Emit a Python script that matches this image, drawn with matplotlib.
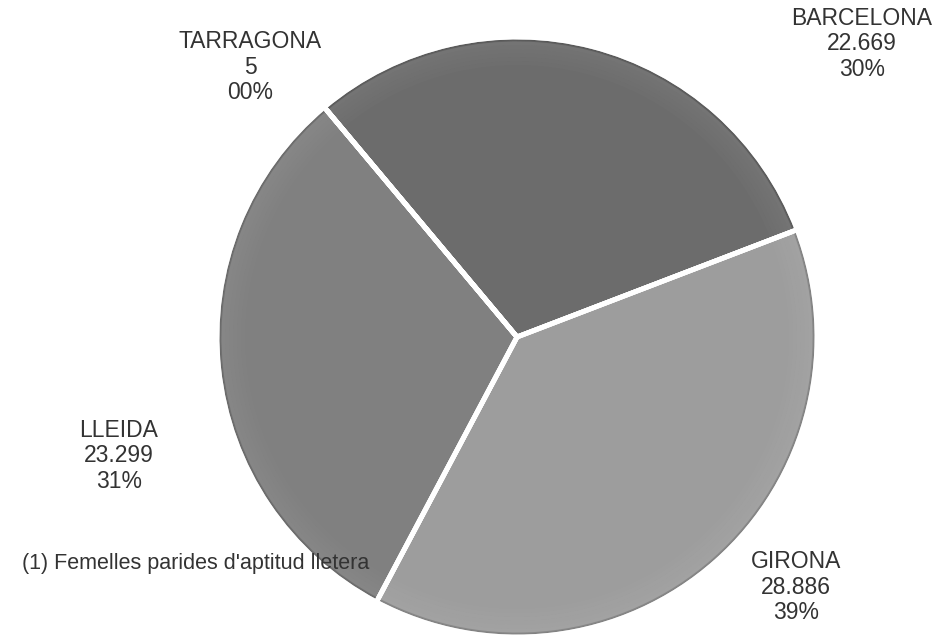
import matplotlib.pyplot as plt
from matplotlib.patches import Wedge

plt.rcParams['font.family'] = ['Liberation Sans', 'DejaVu Sans']

# dades
provincies = ["TARRAGONA", "BARCELONA", "GIRONA", "LLEIDA"]
caps = [5, 22669, 28886, 23299]
valors_txt = ["5", "22.669", "28.886", "23.299"]
pcts_txt = ["00%", "30%", "39%", "31%"]
nota = "(1) Femelles parides d'aptitud lletera"

colors = ["#7a7a7a", "#6c6c6c", "#9d9d9d", "#808080"]
explode = [0, 0, 0.018, 0]
# posicio de les etiquetes (pixels, origen a dalt a l'esquerra)
pos_etiq = [(250, 67), (862, 44), (796, 587), (119, 456)]

W, H = 952, 637
fig = plt.figure(figsize=(W / 100, H / 100), dpi=100)
ax = fig.add_axes([0, 0, 1, 1])

wedges, _ = ax.pie(caps, colors=colors, explode=explode, startangle=130,
                   counterclock=False, center=(517, H - 337), radius=300,
                   wedgeprops=dict(edgecolor='white', linewidth=3.5))

# efecte de bisell (anells suaus)
for w in wedges:
    t1, t2 = w.theta1, w.theta2
    cx, cy = w.center
    r = w.r
    for k in range(6):
        ax.add_patch(Wedge((cx, cy), r - 4 - k * 4, t1, t2, width=4,
                           facecolor='white', alpha=0.015 * (6 - k) / 2 + 0.01,
                           lw=0))
    for k in range(3):
        ax.add_patch(Wedge((cx, cy), r - k * 1.5, t1, t2, width=1.5,
                           facecolor='black', alpha=0.3 - 0.08 * k, lw=0))
    ax.add_patch(Wedge((cx, cy), r, t1, t2, fill=False, edgecolor='white',
                       lw=3.5))

for nom, v, p, (x, y) in zip(provincies, valors_txt, pcts_txt, pos_etiq):
    ax.text(x, H - y, f"{nom}\n{v}\n{p}", ha='center', va='center',
            fontsize=16.5, color='#333333', linespacing=1.15)

ax.text(22, H - 563, nota, ha='left', va='center', fontsize=15.5,
        color='#333333')

ax.set_xlim(0, W)
ax.set_ylim(0, H)
ax.set_aspect('auto')
ax.axis('off')

fig.savefig('out.png', dpi=100, facecolor='white')
